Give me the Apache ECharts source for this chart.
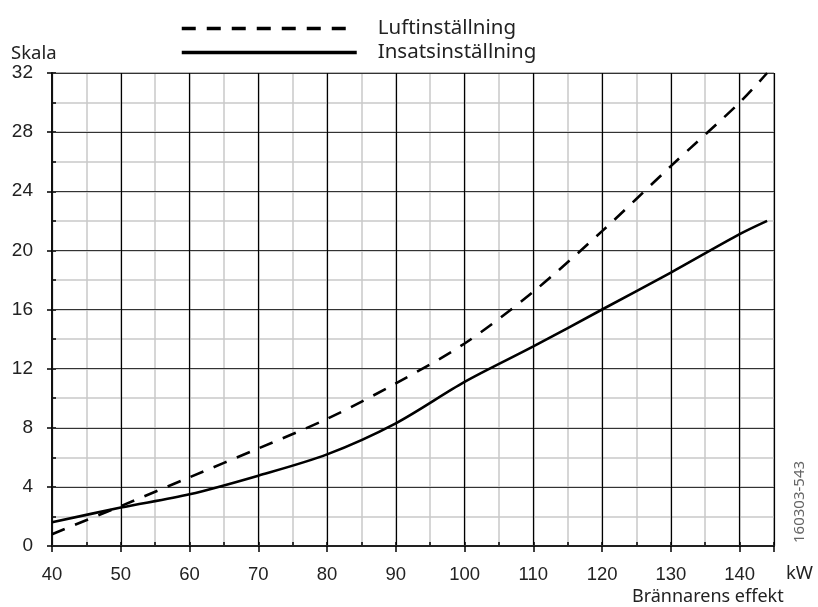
<!DOCTYPE html>
<html>
<head>
<meta charset="utf-8">
<script src="https://cdn.jsdelivr.net/npm/echarts@6/dist/echarts.min.js"></script>
<style>html,body{margin:0;padding:0;background:#fff}#c{width:818px;height:607px}</style>
</head>
<body>
<div id="c"></div>
<script>
const xValues = [40, 50, 60, 70, 80, 90, 100, 110, 120, 130, 140, 144];
const luftValues = [0.8, 2.7, 4.65, 6.6, 8.6, 11.0, 13.7, 17.2, 21.3, 25.7, 30.0, 32.0];
const insatsValues = [1.6, 2.6, 3.5, 4.76, 6.2, 8.3, 11.1, 13.5, 16.0, 18.5, 21.1, 22.0];
const seriesNames = ['Luftinställning', 'Insatsinställning'];
const xTickLabels = ['40','50','60','70','80','90','100','110','120','130','140'];
const yTickLabels = ['0','4','8','12','16','20','24','28','32'];

const chart = echarts.init(document.getElementById('c'), null, {renderer: 'canvas'});
const lblFont = 'Liberation Sans, Arial, sans-serif';
const txtFont = 'Noto Sans, Open Sans, sans-serif';

function pairs(vals) { return xValues.map((x, i) => [x, vals[i]]); }

const option = {
  backgroundColor: '#fff',
  animation: false,
  grid: {left: 52, right: 44, top: 73, bottom: 61, show: true, borderColor: '#000', borderWidth: 1, backgroundColor: 'transparent'},
  legend: {
    orient: 'vertical', left: 175, top: 13, itemWidth: 175, itemHeight: 14, itemGap: 3,
    data: seriesNames,
    itemStyle: {opacity: 0},
    lineStyle: {width: 3.5},
    textStyle: {fontFamily: txtFont, fontSize: 20.5, color: '#222', padding: [0, 0, 0, 16]}
  },
  xAxis: [
    {type: 'value', min: 40, max: 145, interval: 5, z: 0, position: 'bottom',
     axisLine: {show: false}, axisLabel: {show: false},
     axisTick: {show: true, inside: true, length: 4, lineStyle: {color: '#000', width: 1.5}},
     splitLine: {show: true, lineStyle: {color: '#c8c8c8', width: 1.5}}},
    {type: 'value', min: 40, max: 145, interval: 10, z: 1, position: 'bottom',
     axisLine: {show: true, onZero: false, lineStyle: {color: '#222', width: 2}},
     axisTick: {show: true, inside: false, length: 6, lineStyle: {color: '#000', width: 1.5}},
     axisLabel: {show: true, margin: 19, fontFamily: lblFont, fontSize: 18.5, color: '#222',
       formatter: v => xTickLabels.includes(String(v)) ? String(v) : ''},
     splitLine: {show: true, lineStyle: {color: '#000', width: 1.2}}}
  ],
  yAxis: [
    {type: 'value', min: 0, max: 32, interval: 2, z: 0, position: 'left',
     axisLine: {show: false}, axisLabel: {show: false},
     axisTick: {show: true, inside: true, length: 4, lineStyle: {color: '#000', width: 1.5}},
     splitLine: {show: true, lineStyle: {color: '#c8c8c8', width: 1.5}}},
    {type: 'value', min: 0, max: 32, interval: 4, z: 1, position: 'left',
     axisLine: {show: true, onZero: false, lineStyle: {color: '#111', width: 2}},
     axisTick: {show: true, inside: false, length: 5, lineStyle: {color: '#000', width: 1.5}},
     axisLabel: {show: true, margin: 19, fontFamily: lblFont, fontSize: 19, color: '#222',
       formatter: v => yTickLabels.includes(String(v)) ? String(v) : ''},
     splitLine: {show: true, lineStyle: {color: '#333', width: 1.2}}}
  ],
  series: [
    {name: seriesNames[0], type: 'line', xAxisIndex: 1, yAxisIndex: 1, data: pairs(luftValues),
     smooth: 0.3, showSymbol: false, symbol: 'none', z: 5,
     lineStyle: {color: '#000', width: 2.6, type: [14, 11]}, itemStyle: {color: '#000'}},
    {name: seriesNames[1], type: 'line', xAxisIndex: 1, yAxisIndex: 1, data: pairs(insatsValues),
     smooth: 0.3, showSymbol: false, symbol: 'none', z: 5,
     lineStyle: {color: '#000', width: 2.6, type: 'solid'}, itemStyle: {color: '#000'}}
  ],
  graphic: [
    {type: 'text', left: 11, top: 44, style: {text: 'Skala', font: '18.5px ' + txtFont, fill: '#222'}},
    {type: 'text', right: 5, top: 564, style: {text: 'kW', font: '18.5px ' + txtFont, fill: '#222'}},
    {type: 'text', left: 632, top: 588, style: {text: 'Brännarens effekt', font: '18px ' + txtFont, fill: '#222'}},
    {type: 'text', x: 800, y: 543, rotation: Math.PI / 2, style: {text: '160303-543', font: '15px ' + txtFont, fill: '#666', textAlign: 'left', textVerticalAlign: 'middle'}}
  ]
};
chart.setOption(option);
</script>
</body>
</html>
